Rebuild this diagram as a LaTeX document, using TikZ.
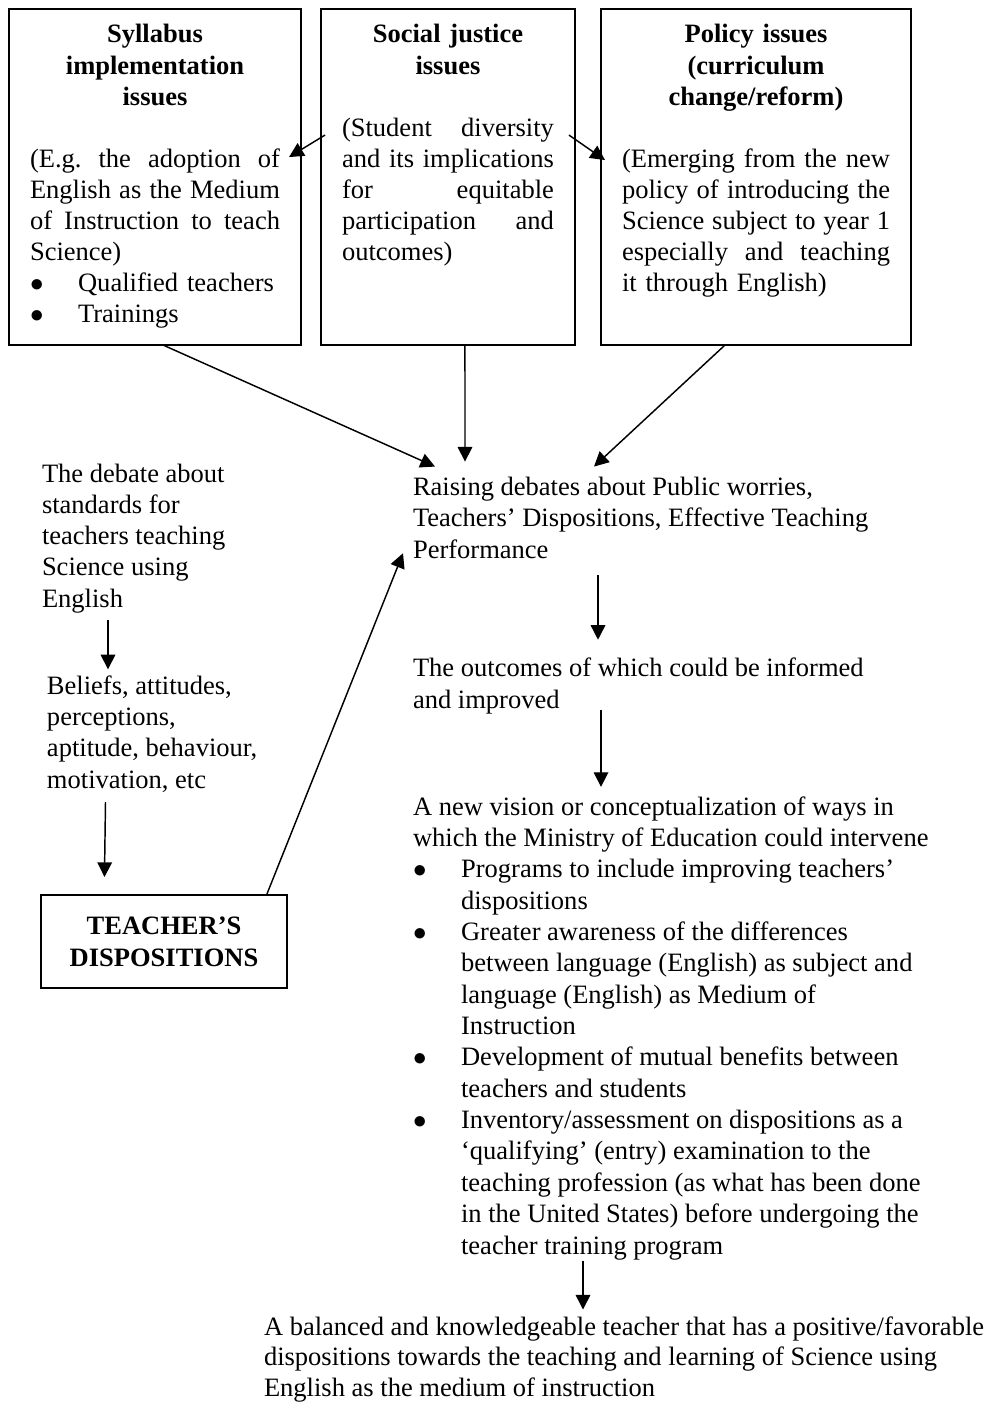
\documentclass[tikz,border=0pt]{standalone}
\usepackage{fontspec}
\setmainfont{Liberation Serif}
\usetikzlibrary{arrows.meta,calc}
\setlength{\parindent}{0pt}
\newcommand{\jl}[1]{\makebox[\hsize][s]{\frenchspacing\spaceskip=0pt\relax #1}}
\newcommand{\ttl}[1]{\makebox[\hsize]{\bfseries #1}}
\newcommand{\bul}{\makebox[21.4pt][l]{$\bullet$}}
\newcommand{\ind}{\hspace*{21.4pt}}

\begin{document}
\begin{tikzpicture}[
  x=0.445pt, y=-0.445pt,
  font=\fontsize{11.8}{13.8}\selectfont,
  issue/.style={draw, line width=0.9pt, text width=#1, align=left, inner xsep=9.35pt,
    inner ysep=0pt, outer sep=0pt, text height=15.1pt, text depth=134.4pt, anchor=base west},
  plain/.style={align=left, inner sep=0pt, outer sep=0pt, anchor=base west},
  dispbox/.style={draw, line width=0.9pt, align=center, font=\fontsize{11.8}{14.2}\selectfont\bfseries,
    minimum width=109.5pt, minimum height=41.4pt, inner sep=0pt},
  flow/.style={-{Triangle[length=6.5pt,width=6.5pt]}, line width=0.65pt}
]
\useasboundingbox (0,0) rectangle (994,1403);
% top row: three issue boxes
\node[issue=111.25pt] (syl) at (9,43) {\ttl{Syllabus}\\ \ttl{implementation}\\ \ttl{issues}\\[13.8pt]
  \jl{(E.g. the adoption of}\\ \jl{English as the Medium}\\ \jl{of Instruction to teach}\\ Science)\\
  \bul Qualified teachers\\ \bul Trainings};
\node[issue=94.3pt] (soc) at (321,43) {\ttl{Social justice}\\ \ttl{issues}\\[13.8pt]
  \jl{(Student diversity}\\ \jl{and its implications}\\ \jl{for equitable}\\ \jl{participation and}\\ outcomes)};
\node[issue=119.26pt] (pol) at (601,43) {\ttl{Policy issues}\\ \ttl{(curriculum}\\ \ttl{change/reform)}\\[13.8pt]
  \jl{(Emerging from the new}\\ \jl{policy of introducing the}\\ \jl{Science subject to year 1}\\ \jl{especially and teaching}\\ it through English)};
% middle: debates and outcomes (base = last line)
\node[plain] (raise) at (413,558) {Raising debates about Public worries,\\ Teachers' Dispositions, Effective Teaching\\ Performance};
\node[plain] (outc) at (413,708) {The outcomes of which could be informed\\ and improved};
% left column
\node[plain] (debate) at (42,607) {The debate about\\ standards for\\ teachers teaching\\ Science using\\ English};
\node[plain] (belief) at (47,788) {Beliefs, attitudes,\\ perceptions,\\ aptitude, behaviour,\\ motivation, etc};
\node[dispbox] (disp) at (164,941.5) {TEACHER'S\\ DISPOSITIONS};
% bottom: vision and result
\node[plain, font=\fontsize{11.8}{13.95}\selectfont] (vision) at (413,1254) {A new vision or conceptualization of ways in\\
  which the Ministry of Education could intervene\\
  \bul Programs to include improving teachers'\\ \ind dispositions\\
  \bul Greater awareness of the differences\\ \ind between language (English) as subject and\\ \ind language (English) as Medium of\\ \ind Instruction\\
  \bul Development of mutual benefits between\\ \ind teachers and students\\
  \bul Inventory/assessment on dispositions as a\\ \ind `qualifying' (entry) examination to the\\ \ind teaching profession (as what has been done\\ \ind in the United States) before undergoing the\\ \ind teacher training program};
\node[plain, font=\fontsize{11.8}{13.4}\selectfont] (final) at (264,1396) {A balanced and knowledgeable teacher that has a positive/favorable\\
  dispositions towards the teaching and learning of Science using\\ English as the medium of instruction};
% connectors
\draw[flow] ($(soc.north west)+(4,126)$) -- ($(syl.north east)+(-12,148)$);
\draw[flow] ($(soc.north east)+(-6,126)$) -- ($(pol.north west)+(4,151)$);
\draw[flow] ($(syl.south)+(8,0)$) -- ($(raise.north west)+(22,-11)$);
\draw[flow] ($(soc.south)+(17,0)$) -- ($(raise.north west)+(52,-16)$);
\draw[flow] ($(pol.south)+(-31,0)$) -- ($(raise.north west)+(181,-11)$);
\draw[flow] ($(raise.south west)+(185,17)$) -- ($(outc.north west)+(185,-18.6)$);
\draw[flow] ($(outc.south west)+(188,-4)$) -- ($(vision.north west)+(188,-9.6)$);
\draw[flow] ($(vision.south west)+(170,1)$) -- ($(final.north west)+(319,-7.6)$);
\draw[flow] ($(debate.south west)+(66,7)$) -- ($(belief.north west)+(61,-7)$);
\draw[flow] ($(belief.south west)+(58.5,10)$) -- ($(disp.north west)+(64.5,-17)$);
\draw[flow] ($(disp.north west)+(227,0)$) -- ($(raise.south west)+(-10,-5)$);
\end{tikzpicture}
\end{document}
